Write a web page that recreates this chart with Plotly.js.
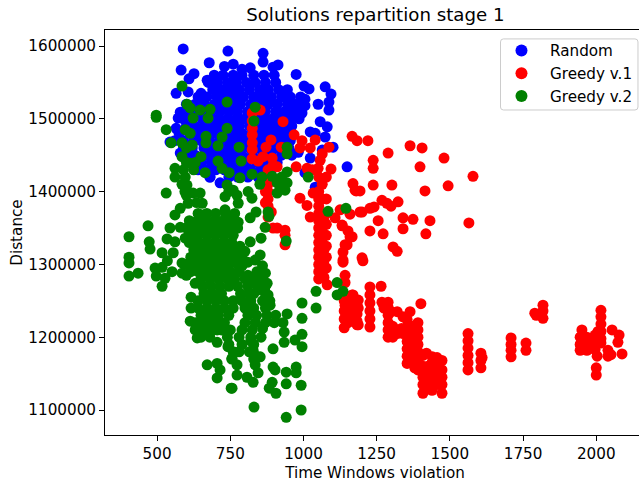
<!DOCTYPE html>
<html><head><meta charset="utf-8">
<script src="https://cdn.plot.ly/plotly-3.0.1.min.js"></script>
<style>html,body{margin:0;padding:0;background:#fff;overflow:hidden}</style></head>
<body><div id="chart" style="width:639px;height:483px;overflow:hidden"></div>
<script>
const titleText = "Solutions repartition stage 1";
const xLabel = "Time Windows violation";
const yLabel = "Distance";
const seriesNames = ["Random", "Greedy v.1", "Greedy v.2"];
const seriesColors = ["#0000ff", "#ff0000", "#008000"];

const randomPoints = [
[589,1596000],[742,1593000],[678,1577000],[582,1567000],[626,1562000],[609,1555000],[671,1553000],[565,1535000],[606,1537000],[650,1535000],
[579,1509000],[572,1501000],[565,1487000],[544,1468000],[579,1453000],[681,1420000],[715,1412000],[862,1590000],[913,1574000],[896,1571000],
[975,1561000],[1002,1545000],[1019,1541000],[1074,1544000],[1094,1534000],[1087,1523000],[1050,1520000],[1005,1527000],[1087,1512000],[995,1508000],
[1057,1496000],[1081,1489000],[1074,1475000],[1023,1482000],[1040,1480000],[1101,1461000],[1064,1457000],[1149,1434000],[1023,1446000],[982,1454000],[1005,1426000],[1040,1406000],
[818,1570000],[760,1575000],[862,1578000],[790,1568000],[730,1572000],
[695,1560000],[725,1560000],[760,1560000],[790,1560000],[830,1560000],[865,1560000],[900,1560000],
[675,1550000],[705,1550000],[740,1550000],[770,1550000],[805,1550000],[835,1550000],[870,1550000],[905,1550000],
[690,1540000],[720,1540000],[750,1540000],[780,1540000],[815,1540000],[850,1540000],[880,1540000],[915,1540000],[945,1540000],
[640,1530000],[670,1530000],[705,1530000],[735,1530000],[765,1530000],[795,1530000],[830,1530000],[860,1530000],[890,1530000],[925,1530000],[955,1530000],[990,1530000],
[600,1520000],[630,1520000],[660,1520000],[695,1520000],[725,1520000],[755,1520000],[785,1520000],[820,1520000],[850,1520000],[880,1520000],[910,1520000],[945,1520000],[975,1520000],[1005,1518000],
[595,1510000],[625,1510000],[650,1510000],[685,1510000],[715,1510000],[745,1510000],[775,1510000],[810,1510000],[840,1510000],[870,1510000],[905,1510000],[935,1510000],[965,1510000],[990,1510000],
[590,1500000],[620,1500000],[655,1500000],[680,1500000],[710,1500000],[740,1500000],[770,1500000],[800,1500000],[835,1500000],[865,1500000],[895,1500000],[925,1500000],[955,1500000],[985,1500000],
[600,1490000],[630,1490000],[660,1490000],[690,1490000],[720,1490000],[750,1490000],[780,1490000],[815,1490000],[845,1490000],[875,1490000],[905,1490000],[935,1490000],[960,1490000],
[575,1480000],[610,1480000],[640,1480000],[670,1480000],[700,1480000],[730,1480000],[760,1480000],[790,1480000],[825,1480000],[855,1480000],[885,1480000],[915,1480000],[945,1480000],
[560,1470000],[590,1470000],[625,1470000],[650,1470000],[680,1470000],[715,1470000],[745,1470000],[775,1470000],[805,1470000],[835,1470000],[865,1470000],[895,1470000],[925,1470000],[955,1470000],
[590,1460000],[620,1460000],[660,1460000],[690,1460000],[720,1460000],[750,1460000],[785,1460000],[815,1460000],[845,1460000],[880,1460000],[910,1460000],[950,1460000],
[600,1450000],[630,1450000],[670,1450000],[700,1450000],[730,1450000],[760,1450000],[790,1450000],[825,1450000],[860,1450000],[890,1450000],[925,1450000],[960,1450000],
[620,1440000],[650,1440000],[685,1440000],[715,1440000],[745,1440000],[775,1440000],[805,1440000],[840,1440000],[875,1440000],[910,1440000],
[640,1430000],[670,1430000],[700,1430000],[730,1430000],[760,1430000],[790,1430000],[820,1430000],[855,1430000],[890,1430000],
[680,1420000],[745,1420000],[775,1420000],[810,1420000],[845,1420000]
];

const greedy1Points = [
[1166,1476000],[1183,1470000],[1220,1470000],[1364,1463000],[1405,1460000],[1480,1446000],[1289,1453000],[1238,1443000],[1238,1432000],[1398,1434000],
[1579,1421000],[1169,1411000],[1238,1409000],[1302,1409000],[1494,1408000],[1415,1401000],[1180,1401000],[1193,1401000],[1268,1388000],[1285,1384000],
[1299,1380000],[1323,1386000],[1241,1379000],[1227,1377000],[1200,1372000],[1159,1369000],[1340,1364000],[1374,1362000],[1432,1360000],[1565,1357000],
[1255,1360000],[1340,1349000],[1227,1346000],[1272,1342000],[1418,1342000],[1306,1324000],[1320,1318000],[1200,1309000],[1203,1305000],
[1132,1353000],[1152,1346000],[1166,1338000],[1149,1327000],[1135,1317000],[1135,1303000],
[930,1496000],[968,1478000],[995,1470000],[1040,1471000],[1023,1460000],[988,1460000],[1087,1461000],[1064,1452000],[1057,1443000],[1050,1432000],[1012,1432000],[975,1434000],[1094,1431000],[1030,1430000],
[835,1512000],[852,1512000],[825,1508000],[825,1497000],[825,1487000],[825,1478000],[825,1467000],[825,1458000],
[889,1471000],[872,1461000],[924,1461000],[824,1445000],[845,1442000],[862,1448000],[893,1446000],[896,1436000],[910,1434000],
[879,1430000],[879,1420000],[879,1410000],[879,1400000],[879,1390000],[879,1380000],[879,1365000],[870,1400000],[870,1385000],[890,1372000],
[988,1391000],[1012,1381000],[1023,1365000],[1033,1398000],[1176,1402000],[1125,1375000],[1193,1372000],[1108,1364000],[1132,1354000],[910,1350000],[937,1347000],[896,1350000],[937,1327000],[937,1340000],
[1052,1420000],[1064,1410000],[1052,1400000],[1064,1390000],[1052,1380000],[1064,1370000],[1052,1360000],[1064,1350000],[1052,1340000],[1064,1330000],[1052,1320000],[1064,1310000],[1052,1300000],[1064,1290000],[1052,1280000],[1052,1390000],[1052,1370000],[1052,1350000],[1052,1330000],[1052,1310000],[1052,1290000],
[1078,1420000],[1078,1390000],[1078,1370000],[1078,1355000],[1078,1340000],[1078,1325000],[1078,1310000],[1078,1295000],[1081,1272000],[1070,1282000],[1070,1300000],[1070,1320000],[1070,1340000],[1070,1360000],
[1159,1338000],[1142,1327000],[1135,1306000],[1142,1285000],[1142,1275000],[1166,1258000],[1142,1244000],[1139,1213000],[1139,1225000],[1139,1236000],[1139,1250000],[1150,1255000],
[1183,1244000],[1183,1232000],[1183,1222000],[1183,1217000],[1152,1230000],[1152,1240000],[1152,1220000],[1160,1248000],[1165,1232000],[1170,1245000],
[1265,1270000],[1227,1269000],[1227,1258000],[1227,1247000],[1227,1236000],[1227,1225000],[1227,1214000],[1169,1258000],[1187,1251000],[1187,1240000],[1187,1217000],
[1268,1248000],[1289,1248000],[1289,1241000],[1289,1230000],[1289,1220000],[1289,1210000],[1289,1200000],[1300,1235000],[1275,1240000],[1320,1235000],[1364,1235000],[1401,1246000],[1340,1228000],
[1320,1205000],[1335,1212000],[1305,1215000],[1340,1205000],[1305,1200000],
[1391,1220000],[1391,1210000],[1391,1200000],[1391,1190000],[1391,1180000],[1391,1170000],[1391,1160000],[1391,1155000],
[1354,1224000],[1354,1214000],[1354,1204000],[1354,1194000],[1354,1184000],[1354,1174000],[1354,1164000],[1370,1215000],[1370,1205000],[1370,1195000],[1370,1185000],[1370,1175000],[1370,1165000],[1380,1190000],[1380,1170000],[1380,1158000],
[1408,1175000],[1408,1160000],[1408,1145000],[1408,1135000],[1408,1123000],[1420,1178000],[1440,1173000],[1456,1172000],[1456,1160000],[1456,1148000],[1456,1135000],
[1473,1168000],[1473,1155000],[1473,1145000],[1473,1135000],[1473,1123000],[1439,1165000],[1439,1155000],[1439,1145000],[1439,1135000],[1439,1127000],[1425,1160000],[1425,1145000],[1425,1130000],[1420,1150000],
[1562,1205000],[1562,1195000],[1562,1185000],[1562,1175000],[1562,1165000],[1562,1155000],[1606,1178000],[1606,1168000],[1606,1158000],[1610,1172000],
[1709,1199000],[1709,1190000],[1709,1182000],[1709,1173000],[1760,1192000],[1760,1182000],[1790,1233000],[1795,1230000],[1818,1244000],[1818,1236000],[1818,1226000],
[1951,1210000],[1945,1200000],[1945,1190000],[1945,1182000],[1955,1202000],[1968,1200000],[1968,1190000],[1968,1182000],[1980,1195000],[1996,1203000],[1996,1193000],[1996,1183000],[1985,1185000],
[2016,1237000],[2016,1228000],[2016,1218000],[2016,1208000],[2016,1198000],[2016,1192000],[2006,1208000],[2006,1195000],
[2054,1210000],[2078,1203000],[2074,1193000],[2088,1177000],[2040,1182000],[2040,1174000],[2050,1176000],[2003,1174000],[2000,1158000],[2000,1148000]
];

const greedy2Points = [
[585,1545000],[497,1502000],[497,1505000],[531,1485000],[739,1523000],[602,1520000],[613,1515000],[647,1512000],[681,1513000],[623,1501000],[674,1501000],
[739,1487000],[722,1475000],[667,1476000],[667,1467000],[596,1485000],[613,1480000],[548,1467000],[585,1467000],[620,1464000],[708,1463000],[585,1448000],[650,1448000],
[613,1439000],[708,1442000],[722,1432000],[746,1426000],[664,1426000],[561,1432000],[561,1420000],[596,1420000],[602,1409000],[531,1398000],[739,1409000],[732,1393000],
[647,1398000],[623,1398000],[654,1384000],[606,1384000],[579,1377000],[561,1368000],[732,1375000],[469,1353000],[544,1350000],[579,1351000],[657,1368000],[630,1358000],
[600,1440000],[590,1430000],[630,1440000],[600,1460000],[625,1430000],[585,1410000],[595,1400000],[745,1400000],[600,1395000],[635,1385000],
[835,1516000],[831,1497000],[780,1461000],[787,1442000],[783,1419000],[824,1424000],[944,1461000],[944,1452000],[1016,1420000],[893,1421000],[944,1427000],[858,1420000],[851,1410000],
[910,1412000],[925,1412000],[944,1412000],[910,1398000],[937,1402000],[925,1420000],[925,1405000],[811,1400000],[824,1391000],[760,1402000],[773,1395000],[777,1384000],[1084,1373000],[1145,1377000],
[879,1372000],[882,1366000],[838,1372000],[818,1364000],[777,1358000],[756,1351000],[869,1351000],[941,1332000],[855,1336000],[818,1331000],[783,1325000],[800,1318000],[852,1313000],[835,1306000],[810,1303000],[841,1290000],[810,1285000],[876,1274000],[845,1265000],[879,1258000],[886,1244000],[944,1232000],[995,1247000],[1043,1263000],[1043,1240000],[995,1226000],[995,1204000],[995,1187000],[971,1196000],[934,1193000],[934,1207000],[896,1184000],[852,1173000],[828,1182000],[896,1159000],[903,1155000],[975,1159000],[975,1151000],[941,1152000],[941,1136000],[992,1134000],[893,1138000],[883,1130000],[906,1123000],[831,1104000],[941,1090000],[992,1100000],
[845,1151000],[828,1138000],[807,1145000],[773,1148000],[773,1162000],[756,1130000],[835,1162000],[1115,1275000],[1135,1263000],[1115,1258000],[835,1175000],[830,1190000],[780,1180000],
[404,1338000],[473,1331000],[476,1321000],[404,1310000],[404,1302000],[404,1284000],[435,1288000],[493,1295000],[497,1284000],[517,1270000],[517,1316000],[555,1316000],[535,1305000],[517,1296000],[527,1281000],[551,1290000],[534,1335000],[561,1331000],[596,1336000],[585,1288000],[630,1274000],[616,1255000],[616,1240000],[613,1222000],[630,1220000],[657,1207000],[637,1199000],[705,1210000],[705,1193000],[671,1162000],[705,1164000],[715,1155000],[705,1144000],[753,1130000],[742,1187000],[756,1171000],
[585,1302000],[600,1300000],[615,1290000],[600,1285000],
[640,1370000],[670,1370000],[700,1370000],[735,1370000],[765,1370000],
[610,1360000],[640,1360000],[665,1360000],[695,1360000],[725,1360000],[755,1360000],
[600,1350000],[625,1350000],[655,1350000],[685,1350000],[715,1350000],[745,1350000],[775,1350000],
[615,1340000],[640,1340000],[670,1340000],[700,1340000],[730,1340000],[760,1340000],
[610,1330000],[640,1330000],[665,1330000],[695,1330000],[725,1330000],[755,1330000],
[625,1320000],[655,1320000],[680,1320000],[710,1320000],[740,1320000],[770,1320000],
[615,1310000],[645,1310000],[670,1310000],[700,1310000],[730,1310000],[760,1310000],[790,1310000],
[625,1300000],[655,1300000],[685,1300000],[715,1300000],[745,1300000],[775,1300000],[790,1298000],[860,1298000],
[640,1290000],[665,1290000],[695,1290000],[725,1290000],[750,1290000],[780,1290000],[870,1288000],
[650,1280000],[680,1280000],[710,1280000],[740,1280000],[765,1280000],[800,1280000],[830,1280000],[860,1280000],
[655,1270000],[685,1270000],[715,1270000],[745,1270000],[775,1270000],[810,1270000],[840,1272000],[868,1268000],
[660,1260000],[690,1260000],[720,1260000],[785,1260000],[815,1260000],[830,1260000],[870,1260000],
[640,1250000],[670,1250000],[700,1250000],[730,1250000],[760,1250000],[790,1250000],[820,1250000],[860,1250000],[885,1250000],
[640,1240000],[670,1240000],[700,1240000],[730,1240000],[760,1240000],[800,1240000],[830,1240000],[870,1240000],
[650,1230000],[680,1230000],[710,1230000],[745,1230000],[810,1230000],[840,1230000],[875,1230000],[905,1230000],
[640,1220000],[670,1220000],[700,1220000],[730,1220000],[800,1220000],[835,1220000],[870,1220000],[900,1220000],[930,1220000],
[630,1210000],[660,1210000],[690,1210000],[720,1210000],[750,1210000],[790,1210000],[825,1210000],[860,1212000],
[650,1200000],[680,1200000],[740,1200000],[780,1200000],[820,1200000],[855,1200000],
[745,1190000],[790,1190000],[820,1195000],[760,1180000],[815,1180000],[755,1170000],[830,1170000]
];

const xTicks = [500, 750, 1000, 1250, 1500, 1750, 2000];
const yTicks = [1100000, 1200000, 1300000, 1400000, 1500000, 1600000];

const allPoints = [randomPoints, greedy1Points, greedy2Points];
const traces = allPoints.map((pts, i) => ({
  type: "scatter", mode: "markers", name: seriesNames[i],
  x: pts.map(p => p[0]), y: pts.map(p => p[1]),
  marker: {color: seriesColors[i], size: 11, line: {width: 0}},
  cliponaxis: true
}));
const tickFont = {family: "DejaVu Sans", size: 15.2, color: "#000"};
const axisCommon = {
  showgrid: false, zeroline: false, showline: true, mirror: true,
  linecolor: "#000", linewidth: 1, ticks: "outside", ticklen: 5, tickwidth: 1, tickcolor: "#000",
  tickfont: tickFont, tickmode: "array"
};
const fx0 = 0.7324, fx1 = 0.987, fy0 = 0.8025, fy1 = 0.978, rx = 3/540, ry = 3/405;
const frame = `M ${fx0+rx},${fy0} L ${fx1-rx},${fy0} Q ${fx1},${fy0} ${fx1},${fy0+ry} L ${fx1},${fy1-ry} Q ${fx1},${fy1} ${fx1-rx},${fy1} L ${fx0+rx},${fy1} Q ${fx0},${fy1} ${fx0},${fy1-ry} L ${fx0},${fy0+ry} Q ${fx0},${fy0} ${fx0+rx},${fy0} Z`;
Plotly.newPlot("chart", traces, {
  width: 645, height: 483,
  margin: {l: 105, r: 0, t: 30, b: 48},
  paper_bgcolor: "#fff", plot_bgcolor: "#fff",
  title: {text: titleText, font: {family: "DejaVu Sans", size: 18.2, color: "#000"}, x: 0.582, xanchor: "center", y: 0.969, yanchor: "middle"},
  xaxis: Object.assign({}, axisCommon, {range: [322, 2166.5], tickvals: xTicks, ticktext: xTicks.map(String),
    title: {text: xLabel, font: tickFont, standoff: 5}}),
  yaxis: Object.assign({}, axisCommon, {range: [1065660, 1622000], tickvals: yTicks, ticktext: yTicks.map(String),
    title: {text: yLabel, font: tickFont, standoff: 1}}),
  shapes: [{type: "path", xref: "paper", yref: "paper", path: frame, fillcolor: "#fff", line: {color: "#ccc", width: 1}, layer: "above"}],
  legend: {x: fx1, xanchor: "right", y: 0.990, yanchor: "top", bgcolor: "rgba(0,0,0,0)", borderwidth: 0,
    font: {family: "DejaVu Sans", size: 15.2, color: "#000"}, itemsizing: "constant", itemwidth: 47, tracegroupgap: 0}
}, {displayModeBar: false, staticPlot: true});
</script></body></html>
